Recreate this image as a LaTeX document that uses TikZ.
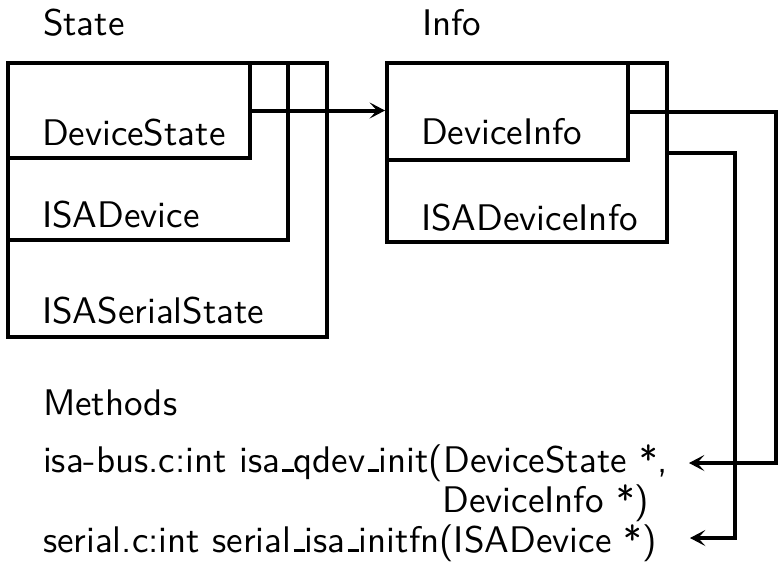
\documentclass[tikz,border=0pt]{standalone}
\usetikzlibrary{arrows.meta,fit}
% underscore drawn as a short rule on the baseline
\newcommand\usc{\leavevmode\kern.06em\vrule width .3em height .07em depth 0pt\relax}
\begin{document}
\begin{tikzpicture}[x=0.27pt,y=-0.27pt,
  font=\sffamily\fontsize{10}{12}\selectfont,
  line width=1.08pt,
  box/.style={draw, inner sep=0pt, line width=1.08pt},
  lbl/.style={inner sep=0pt, anchor=base west},
  link/.style={-{Stealth[length=4.2pt,width=4.4pt,inset=2pt,line width=0.3pt]}, line width=1.08pt}]
\useasboundingbox (0,0) rectangle (778,569);

% nested structure boxes
\node[box, fit={(8,63) (327,337)}] (stateBox) {};
\node[box, fit={(8,63) (288,240)}] (isaDevBox) {};
\node[box, fit={(8,63) (250,158)}] (devStateBox) {};
\node[box, fit={(387,63) (667,242)}] (infoBox) {};
\node[box, fit={(387,63) (628,160)}] (devInfoBox) {};

% titles and type names
\node[lbl] (stateTitle) at (41,35) {State};
\node[lbl] (infoTitle) at (420,35) {Info};
\node[lbl] (devStateTxt) at (40,145) {DeviceState};
\node[lbl] (isaDevTxt) at (40,227) {ISADevice};
\node[lbl] (isaSerTxt) at (40,323) {ISASerialState};
\node[lbl] (devInfoTxt) at (419,144) {DeviceInfo};
\node[lbl] (isaDevInfoTxt) at (419,230) {ISADeviceInfo};

% methods
\node[lbl] (methodsTitle) at (41,415) {Methods};
\node[lbl] (isaBusTxt) at (41,472) {isa-bus.c:int isa\usc qdev\usc init(DeviceState *,};
\node[lbl, anchor=base east] (isaBusCont) at (651,512) {DeviceInfo *)};
\node[lbl] (serialTxt) at (41,552) {serial.c:int serial\usc isa\usc initfn(ISADevice *)};

% routing points of the connectors
\coordinate (busA) at (776,463);
\coordinate (busB) at (735,538);
\coordinate (isaIn) at (689,463);
\coordinate (serIn) at (690,538);

% connectors
\draw[link] (devStateBox.east) -- (devStateBox.east -| infoBox.west);
\draw[link] (devInfoBox.east) -| (busA) -- (isaIn);
\draw[link] (infoBox.east) -| (busB) -- (serIn);
\end{tikzpicture}
\end{document}
